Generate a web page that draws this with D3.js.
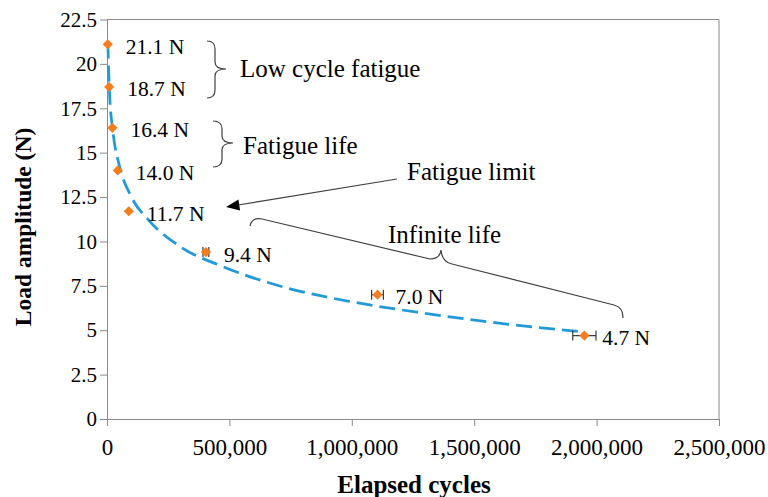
<!DOCTYPE html>
<html>
<head>
<meta charset="utf-8">
<script src="https://cdn.jsdelivr.net/npm/d3@7"></script>
</head>
<body style="margin:0;background:#fff">
<svg id="chart" width="768" height="497" style="display:block"></svg>
<script>
// ---- data ----
const cycles = [3000, 9000, 22000, 44000, 89000, 404000, 1105000, 1950000];
const load = [21.1, 18.7, 16.4, 14.0, 11.7, 9.4, 7.0, 4.7];
const errCycles = [0, 0, 0, 0, 0, 12000, 24000, 47500];
const pointLabels = ["21.1 N", "18.7 N", "16.4 N", "14.0 N", "11.7 N", "9.4 N", "7.0 N", "4.7 N"];
const trendCycles = [3500, 10000, 25000, 50000, 100000, 170000, 300000, 470000, 730000, 1000000, 1300000, 1600000, 1950000];
const trendLoad = [21.2, 18.45, 16.1, 14.3, 12.5, 11.2, 9.7, 8.6, 7.4, 6.6, 5.95, 5.4, 4.9];
const xTicks = [0, 500000, 1000000, 1500000, 2000000, 2500000];
const yTicks = [0, 2.5, 5, 7.5, 10, 12.5, 15, 17.5, 20, 22.5];
const xTitle = "Elapsed cycles";
const yTitle = "Load amplitude (N)";

// ---- layout ----
const FONT = "'Liberation Serif'";
const W = 768, H = 497;
const m = { left: 107, right: 49, top: 19.5, bottom: 78 };
const svg = d3.select("#chart");
const x = d3.scaleLinear().domain([0, 2500000]).range([m.left, W - m.right]);
const y = d3.scaleLinear().domain([0, 22.5]).range([H - m.bottom, m.top]);

const axisColor = "#8a8a8a";

function txt(sel) {
  return sel.attr("font-family", FONT).attr("font-weight", 400).attr("fill", "#000");
}

// plot border (top and right)
svg.append("path")
  .attr("d", `M${x(0)},${y(22.5)}H${x(2500000)}V${y(0)}`)
  .attr("fill", "none").attr("stroke", axisColor).attr("stroke-width", 1);

// x axis
const fmt = d3.format(",");
const gx = svg.append("g").attr("transform", `translate(0,${y(0)})`)
  .call(d3.axisBottom(x).tickValues(xTicks).tickFormat(d => fmt(d)).tickSize(7).tickPadding(13).tickSizeOuter(0));
gx.attr("font-family", FONT);
gx.select(".domain").attr("stroke", axisColor);
gx.selectAll(".tick line").attr("stroke", axisColor);
gx.selectAll(".tick text").call(txt).attr("font-size", 23);

// y axis
const gy = svg.append("g").attr("transform", `translate(${x(0)},0)`)
  .call(d3.axisLeft(y).tickValues(yTicks).tickFormat(d => String(d)).tickSize(7).tickPadding(3).tickSizeOuter(0));
gy.attr("font-family", FONT);
gy.select(".domain").attr("stroke", axisColor);
gy.selectAll(".tick line").attr("stroke", axisColor);
gy.selectAll(".tick text").call(txt).attr("font-size", 21);

// axis titles
svg.append("text").attr("x", 414).attr("y", 493)
  .attr("font-family", FONT).attr("text-anchor", "middle").attr("font-size", 25).attr("font-weight", 700).text(xTitle);
svg.append("text").attr("transform", `translate(31,${227}) rotate(-90)`)
  .attr("font-family", FONT).attr("text-anchor", "middle").attr("font-size", 23.5).attr("font-weight", 700).text(yTitle);

// trendline
const trend = trendCycles.map((c, i) => [c, trendLoad[i]]);
svg.append("path").datum(trend)
  .attr("d", d3.line().x(d => x(d[0])).y(d => y(d[1])).curve(d3.curveMonotoneX))
  .attr("fill", "none").attr("stroke", "#229ad8").attr("stroke-width", 2.75)
  .attr("stroke-dasharray", "16,7");

// error bars
const pts = cycles.map((c, i) => ({ c, v: load[i], e: errCycles[i], label: pointLabels[i] }));
const eb = svg.append("g").attr("stroke", "#3a3a3a").attr("stroke-width", 1.2);
pts.filter(d => d.e > 0).forEach(d => {
  const yy = y(d.v), x1 = x(d.c - d.e), x2 = x(d.c + d.e);
  eb.append("path").attr("d", `M${x1},${yy}H${x2}M${x1},${yy - 5}V${yy + 5}M${x2},${yy - 5}V${yy + 5}`).attr("fill", "none");
});

// diamonds
svg.append("g").selectAll("path").data(pts).join("path")
  .attr("transform", d => `translate(${x(d.c)},${y(d.v)}) rotate(45)`)
  .attr("d", d3.symbol().type(d3.symbolSquare).size(52))
  .attr("fill", "#f47d20");

// data labels
pts.forEach(d => {
  svg.append("text").call(txt)
    .attr("x", x(d.c) + 18).attr("y", y(d.v) + 9.5)
    .attr("font-size", 21.5).text(d.label);
});

// annotations
const ann = svg.append("g").attr("fill", "none").attr("stroke", "#404040").attr("stroke-width", 1.2);
ann.append("path").attr("d", "M207,41 Q215,41 215,49 L215,62 Q215,69 226,69 Q215,69 215,76 L215,90 Q215,98 207,98");
ann.append("path").attr("d", "M213,121 Q222,121 222,129 L222,136 Q222,143 233,143 Q222,143 222,150 L222,159 Q222,167 213,167");
ann.append("path").attr("d", "M250,226 Q252,217 262,219 L430,259 Q440,259 441,250 Q442,262 452,264 L614,305 Q623,307 623,318");
ann.append("line").attr("x1", 397).attr("y1", 179).attr("x2", 238).attr("y2", 205);
svg.append("path").attr("d", "M226,207 L238.5,199.5 L240,210.5 Z").attr("fill", "#000");

const texts = [
  { t: "Low cycle fatigue", x: 240, y: 77 },
  { t: "Fatigue life", x: 243, y: 154 },
  { t: "Fatigue limit", x: 407, y: 180 },
  { t: "Infinite life", x: 388, y: 243 }
];
texts.forEach(d => {
  svg.append("text").call(txt).attr("x", d.x).attr("y", d.y).attr("font-size", 25).text(d.t);
});
</script>
</body>
</html>
